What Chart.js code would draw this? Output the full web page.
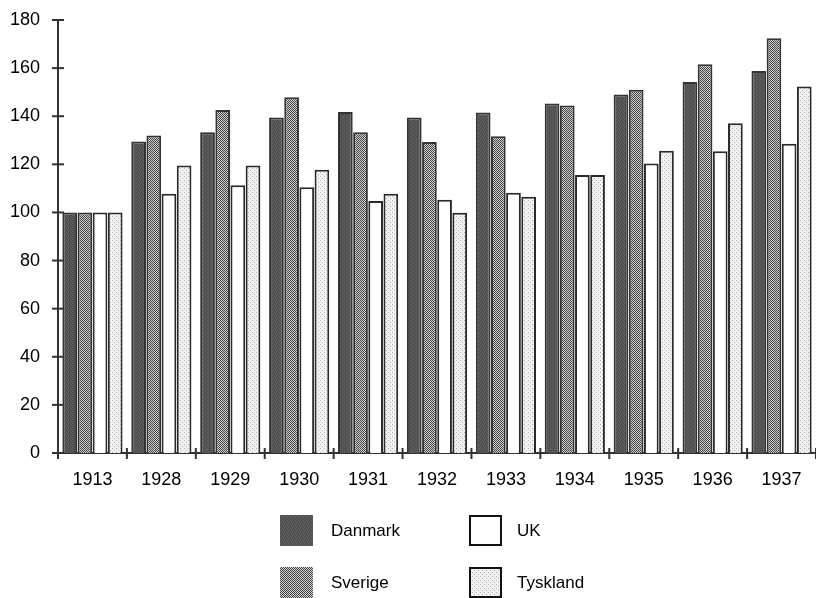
<!DOCTYPE html>
<html>
<head>
<meta charset="utf-8">
<script src="https://cdn.jsdelivr.net/npm/chart.js@4/dist/chart.umd.min.js"></script>
<style>
  html, body { margin: 0; padding: 0; background: #fff; }
  #wrap { position: relative; width: 816px; height: 598px; }
</style>
</head>
<body>
<div id="wrap"><canvas id="c" width="816" height="598"></canvas></div>
<script>
const years = ["1913","1928","1929","1930","1931","1932","1933","1934","1935","1936","1937"];
const danmark   = [100, 129.5, 133.3, 139.5, 141.8, 139.5, 141.5, 145.3, 149.0, 154.2, 158.8];
const sverige   = [100, 132.0, 142.6, 147.9, 133.3, 129.3, 131.7, 144.5, 151.0, 161.6, 172.4];
const uk        = [100, 107.8, 111.3, 110.5, 104.8, 105.3, 108.2, 115.6, 120.3, 125.4, 128.6];
const tyskland  = [100, 119.5, 119.5, 117.7, 107.8, 99.9, 106.5, 115.6, 125.6, 137.1, 152.4];
const seriesNames = ["Danmark", "Sverige", "UK", "Tyskland"];
const yTicks = { min: 0, max: 180, step: 20 };

function makePattern(size, painter) {
  const c = document.createElement('canvas');
  c.width = size; c.height = size;
  const g = c.getContext('2d');
  painter(g);
  return g.createPattern(c, 'repeat');
}
// Danmark: dark speckled grey
const patDan = makePattern(4, g => {
  const shades = ['#555','#4a4a4a','#606060','#525252',
                  '#5c5c5c','#474747','#585858','#646464',
                  '#4e4e4e','#5e5e5e','#4b4b4b','#575757',
                  '#626262','#505050','#5a5a5a','#494949'];
  for (let i = 0; i < 16; i++) { g.fillStyle = shades[i]; g.fillRect(i % 4, Math.floor(i / 4), 1, 1); }
});
// Sverige: fine checker
const patSve = makePattern(2, g => {
  g.fillStyle = '#d0d0d0'; g.fillRect(0, 0, 2, 2);
  g.fillStyle = '#444'; g.fillRect(0, 0, 1, 1); g.fillRect(1, 1, 1, 1);
});
// Tyskland: light dots
const patTys = makePattern(4, g => {
  g.fillStyle = '#f2f2f2'; g.fillRect(0, 0, 4, 4);
  g.fillStyle = '#b0b0b0'; g.fillRect(0, 0, 1, 1); g.fillRect(2, 2, 1, 1);
});

const fills = [patDan, patSve, '#ffffff', patTys];
const borders = ['#333333', '#333333', '#2a2a2a', '#2a2a2a'];
const values = [danmark, sverige, uk, tyskland];

const FONT = "'Liberation Sans', Arial, sans-serif";

const crossTicks = {
  id: 'crossTicks',
  afterDraw(chart) {
    const ctx = chart.ctx, ys = chart.scales.y, xs = chart.scales.x;
    const ax = chart.chartArea.left, by = chart.chartArea.bottom;
    ctx.save();
    ctx.strokeStyle = '#333'; ctx.lineWidth = 2;
    ys.ticks.forEach(t => {
      const y = ys.getPixelForValue(t.value);
      ctx.beginPath(); ctx.moveTo(ax - 6, y); ctx.lineTo(ax + 6, y); ctx.stroke();
    });
    const n = years.length;
    const step = xs.getPixelForValue(1) - xs.getPixelForValue(0);
    for (let i = 0; i <= n; i++) {
      let x;
      if (i === 0) x = xs.getPixelForValue(0) - step / 2;
      else if (i === n) x = xs.getPixelForValue(n - 1) + step / 2;
      else x = (xs.getPixelForValue(i - 1) + xs.getPixelForValue(i)) / 2;
      ctx.beginPath(); ctx.moveTo(x, by - 5); ctx.lineTo(x, by + 6); ctx.stroke();
    }
    ctx.restore();
  }
};

const gridLegend = {
  id: 'gridLegend',
  afterDraw(chart) {
    const ctx = chart.ctx;
    const cols = [{ box: 280, text: 331 }, { box: 469, text: 517 }];
    const rows = [515, 567];
    const order = [[0, 0, 0], [1, 0, 1], [2, 1, 0], [3, 1, 1]];
    ctx.save();
    ctx.font = "17px " + FONT;
    ctx.textBaseline = 'middle';
    order.forEach(([di, c, r]) => {
      const ds = chart.data.datasets[di];
      const bx = cols[c].box, by = rows[r];
      ctx.fillStyle = ds.backgroundColor;
      ctx.fillRect(bx, by, 33, 31);
      if (di >= 2) {
        ctx.strokeStyle = '#111'; ctx.lineWidth = 2;
        ctx.strokeRect(bx + 1, by + 1, 31, 29);
      }
      ctx.fillStyle = '#000';
      ctx.fillText(ds.label, cols[c].text, by + 16);
    });
    ctx.restore();
  }
};

new Chart(document.getElementById('c'), {
  type: 'bar',
  data: {
    labels: years,
    datasets: seriesNames.map((name, i) => ({
      label: name,
      data: values[i],
      backgroundColor: fills[i],
      borderColor: borders[i],
      borderWidth: 2,
      borderSkipped: 'bottom',
      categoryPercentage: 0.88,
      barPercentage: 0.97
    }))
  },
  options: {
    responsive: false,
    animation: false,
    devicePixelRatio: 1,
    layout: { padding: { top: 20, right: 0, bottom: 100, left: 0 } },
    plugins: { legend: { display: false }, tooltip: { enabled: false } },
    scales: {
      x: {
        grid: { display: false, drawTicks: false },
        border: { display: true, color: '#333', width: 2 },
        ticks: { color: '#000', font: { family: FONT, size: 18 }, padding: 16, maxRotation: 0 },
        afterFit(s) { s.height = 45; s.paddingLeft = 0; s.paddingRight = 0; }
      },
      y: {
        min: yTicks.min, max: yTicks.max,
        grid: { display: false, drawTicks: false },
        border: { display: true, color: '#333', width: 2 },
        ticks: { stepSize: yTicks.step, color: '#000', font: { family: FONT, size: 18 }, padding: 18 },
        afterFit(s) { s.width = 58; s.paddingTop = 0; s.paddingBottom = 0; }
      }
    }
  },
  plugins: [crossTicks, gridLegend]
});
</script>
</body>
</html>
